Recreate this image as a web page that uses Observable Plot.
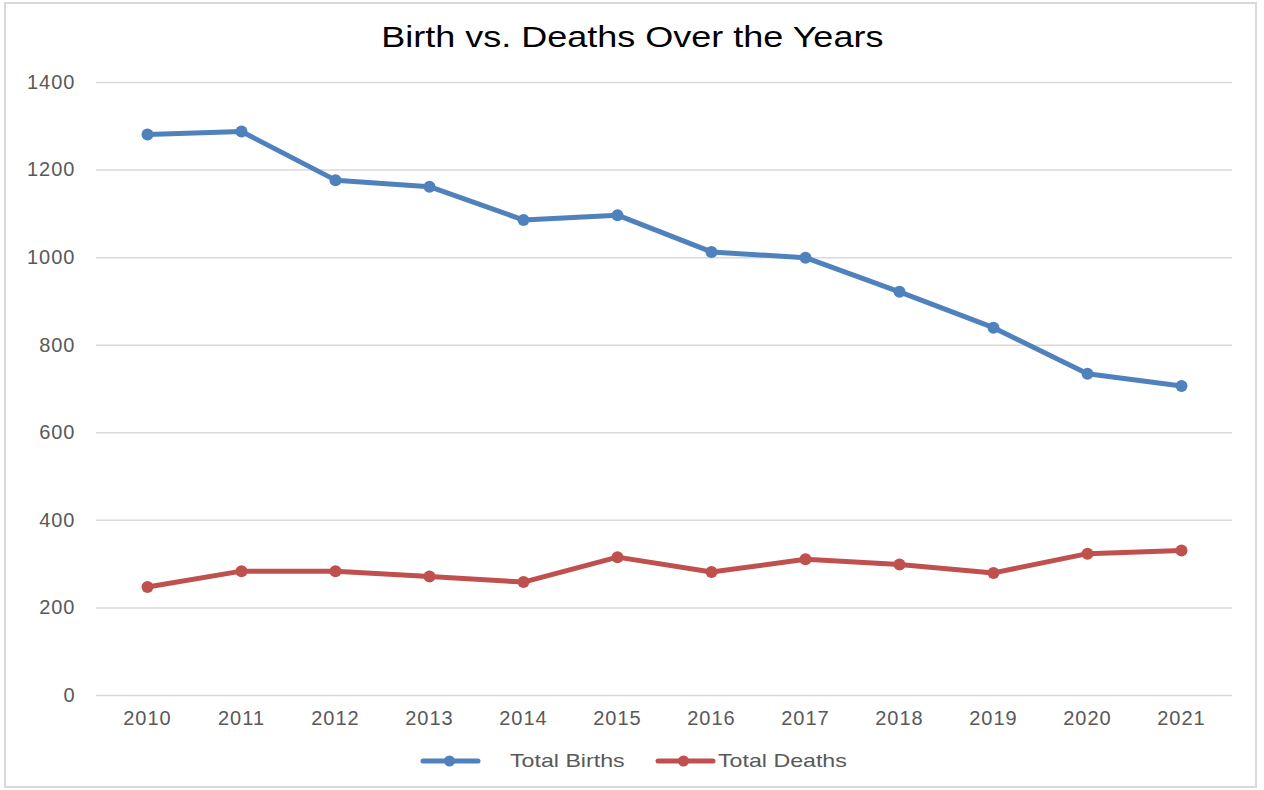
<!DOCTYPE html>
<html>
<head>
<meta charset="utf-8">
<script src="https://cdn.jsdelivr.net/npm/d3@7"></script>
<script src="https://cdn.jsdelivr.net/npm/@observablehq/plot@0.6"></script>
<style>
  html, body { margin: 0; padding: 0; background: #ffffff; }
  #wrap { position: relative; width: 1264px; height: 790px; overflow: hidden; font-family: "Liberation Sans", Arial, sans-serif; }
  #frame { position: absolute; left: 4px; top: 2px; width: 1253px; height: 786px; border: 2px solid #d9d9d9; box-sizing: border-box; }
  #title { position: absolute; left: 0; top: 22px; width: 1264px; text-align: center; font-size: 30px; line-height: 30px; color: #000; }
  #title span { display: inline-block; transform: scaleX(1.2); transform-origin: center; }
  #chart { position: absolute; left: 0; top: 62px; }
  #chart svg text { fill: #595959; letter-spacing: 1px; }
  .lg { position: absolute; font-size: 19px; line-height: 19px; color: #595959; white-space: nowrap; transform: scaleX(1.22); transform-origin: 0 50%; }
  .sw { position: absolute; }
</style>
</head>
<body>
<div id="wrap">
  <div id="frame"></div>
  <div id="title"><span>Birth vs. Deaths Over the Years</span></div>
  <div id="chart"></div>
  <svg class="sw" style="left:418px; top:751px;" width="66" height="20"><line x1="5" y1="10" x2="60" y2="10" stroke="#4f81bd" stroke-width="5" stroke-linecap="round"/><circle cx="31.5" cy="10" r="5.5" fill="#4f81bd"/></svg>
  <div class="lg" style="left:510px; top:751px;">Total Births</div>
  <svg class="sw" style="left:653px; top:751px;" width="66" height="20"><line x1="5" y1="10" x2="60" y2="10" stroke="#c0504d" stroke-width="5" stroke-linecap="round"/><circle cx="30.5" cy="10" r="5.5" fill="#c0504d"/></svg>
  <div class="lg" style="left:718px; top:751px;">Total Deaths</div>
</div>
<script>
const years = ["2010","2011","2012","2013","2014","2015","2016","2017","2018","2019","2020","2021"];
const births = [1281, 1288, 1177, 1162, 1086, 1097, 1013, 1000, 922, 840, 735, 707];
const deaths = [248, 284, 284, 272, 259, 316, 282, 311, 299, 280, 324, 331];
const seriesNames = ["Total Births", "Total Deaths"];
const seriesColors = ["#4f81bd", "#c0504d"];
const yTicks = [0, 200, 400, 600, 800, 1000, 1200, 1400];

const data = [
  ...years.map((y, i) => ({year: y, value: births[i], series: seriesNames[0]})),
  ...years.map((y, i) => ({year: y, value: deaths[i], series: seriesNames[1]}))
];

const chart = Plot.plot({
  width: 1264,
  height: 673,
  marginTop: 20,
  marginBottom: 40,
  marginLeft: 96,
  marginRight: 32,
  style: {fontFamily: "'Liberation Sans', Arial, sans-serif", fontSize: "20px", background: "transparent", overflow: "visible"},
  x: {type: "point", domain: years, padding: 0.5, tickSize: 0, tickPadding: 15, label: null},
  y: {domain: [0, 1400], ticks: yTicks, tickSize: 0, tickPadding: 21, label: null, tickFormat: d => String(d)},
  color: {domain: seriesNames, range: seriesColors},
  marks: [
    Plot.ruleY(yTicks, {stroke: "#d9d9d9", strokeWidth: 1.5}),
    Plot.line(data, {x: "year", y: "value", z: "series", stroke: "series", strokeWidth: 5, strokeLinejoin: "round"}),
    Plot.dot(data, {x: "year", y: "value", fill: "series", r: 6, stroke: "none"})
  ]
});
document.getElementById("chart").appendChild(chart);
</script>
</body>
</html>
